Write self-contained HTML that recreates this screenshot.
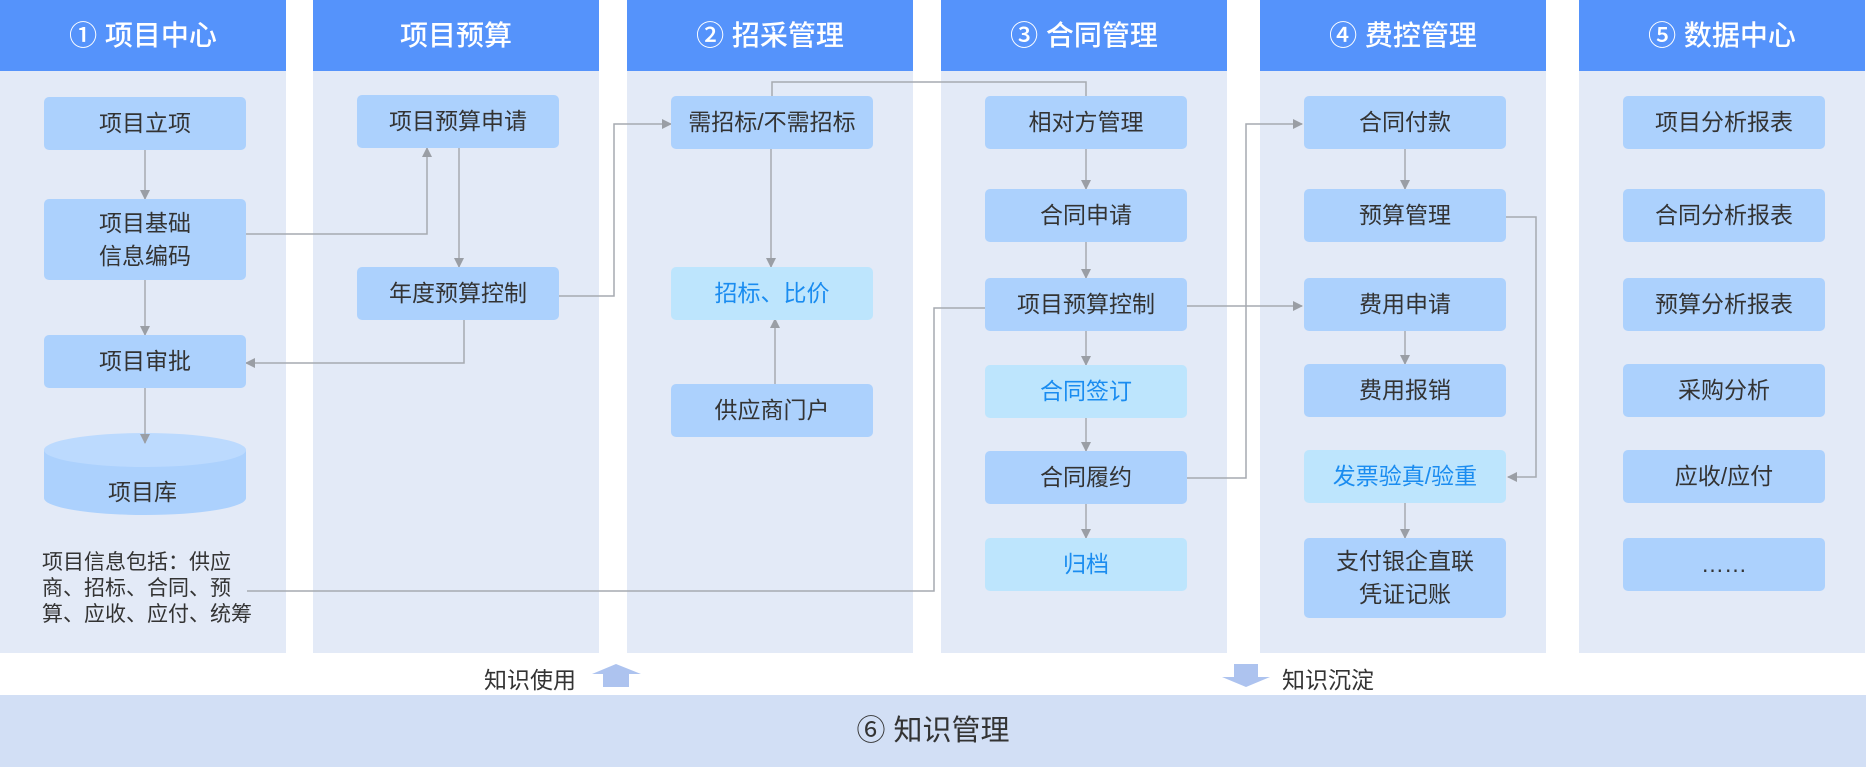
<!DOCTYPE html>
<html><head><meta charset="utf-8"><style>
*{margin:0;padding:0;box-sizing:border-box}
body{width:1866px;height:767px;background:#fff;position:relative;overflow:hidden;font-family:"Liberation Sans","Noto Sans CJK SC",sans-serif}
.col{position:absolute;top:0;width:286px;height:653px;background:#e3eaf7}
.hd{position:absolute;left:0;top:0;width:100%;height:71px;background:#5593fb;color:#fff;font-size:28px;line-height:71px;text-align:center;font-weight:500}
.b{position:absolute;width:202px;height:53px;background:#acd1fd;border-radius:5px;color:#333;font-size:23px;display:flex;align-items:center;justify-content:center;text-align:center;line-height:33px}
.l{background:#bde5fd;color:#1a8cf0}
.t{position:absolute;font-size:21px;color:#333}
</style></head><body>
<div class="col" style="left:0"><div class="hd">① 项目中心</div></div>
<div class="col" style="left:313px"><div class="hd">项目预算</div></div>
<div class="col" style="left:627px"><div class="hd">② 招采管理</div></div>
<div class="col" style="left:941px"><div class="hd">③ 合同管理</div></div>
<div class="col" style="left:1260px"><div class="hd">④ 费控管理</div></div>
<div class="col" style="left:1579px"><div class="hd">⑤ 数据中心</div></div>

<div style="position:absolute;left:0;top:695px;width:1866px;height:72px;background:#d2dff5;font-size:29px;color:#333;text-align:center;line-height:72px">⑥ 知识管理</div>
<div class="t" style="left:484px;top:661px;font-size:23px">知识使用</div>
<div class="t" style="left:1282px;top:661px;font-size:23px">知识沉淀</div>

<svg width="1866" height="767" style="position:absolute;left:0;top:0">
<defs><marker id="a" markerWidth="10" markerHeight="10" refX="9" refY="5" orient="auto" markerUnits="userSpaceOnUse"><path d="M0,0 L10,5 L0,10z" fill="#9a9ea5"/></marker></defs>
<ellipse cx="145" cy="498" rx="101" ry="17" fill="#acd1fd"/>
<rect x="44" y="450" width="202" height="48" fill="#acd1fd"/>
<ellipse cx="145" cy="450" rx="101" ry="17" fill="#bcdafe"/>
<g stroke="#a6aab0" stroke-width="1.5" fill="none">
<path d="M145,150 V199" marker-end="url(#a)"/>
<path d="M145,280 V335" marker-end="url(#a)"/>
<path d="M145,387 V443" marker-end="url(#a)"/>
<path d="M246,234 H427 V148" marker-end="url(#a)"/>
<path d="M459,148 V267" marker-end="url(#a)"/>
<path d="M464,319 V363 H246" marker-end="url(#a)"/>
<path d="M558,296 H614 V124 H671" marker-end="url(#a)"/>
<path d="M771,149 V267" marker-end="url(#a)"/>
<path d="M775,384 V319" marker-end="url(#a)"/>
<path d="M772,96 V82 H1086 V96"/>
<path d="M1086,149 V189" marker-end="url(#a)"/>
<path d="M1086,242 V278" marker-end="url(#a)"/>
<path d="M1086,331 V365" marker-end="url(#a)"/>
<path d="M1086,418 V451" marker-end="url(#a)"/>
<path d="M1086,503 V538" marker-end="url(#a)"/>
<path d="M247,591 H934 V308 H985"/>
<path d="M1187,306 H1302" marker-end="url(#a)"/>
<path d="M1187,478 H1246 V124 H1302" marker-end="url(#a)"/>
<path d="M1405,149 V189" marker-end="url(#a)"/>
<path d="M1405,331 V364" marker-end="url(#a)"/>
<path d="M1405,502 V538" marker-end="url(#a)"/>
<path d="M1506,217 H1536 V477 H1508" marker-end="url(#a)"/>
</g>
<path d="M592,674 L616,664 L641,674 L629,674 L629,687 L603,687 L603,674Z" fill="#adc3ef"/>
<path d="M1222,677 L1246,687 L1270,677 L1258,677 L1258,664 L1234,664 L1234,677Z" fill="#adc3ef"/>
</svg>

<div class="b" style="left:44px;top:97px">项目立项</div>
<div class="b" style="left:44px;top:199px;height:81px">项目基础<br>信息编码</div>
<div class="b" style="left:44px;top:335px">项目审批</div>
<div class="t" style="left:108px;top:473px;font-size:23px">项目库</div>
<div class="t" style="left:42px;top:550px;line-height:26px">项目信息包括：供应<br>商、招标、合同、预<br>算、应收、应付、统筹</div>

<div class="b" style="left:357px;top:95px">项目预算申请</div>
<div class="b" style="left:357px;top:267px">年度预算控制</div>

<div class="b" style="left:671px;top:96px">需招标/不需招标</div>
<div class="b l" style="left:671px;top:267px">招标、比价</div>
<div class="b" style="left:671px;top:384px">供应商门户</div>

<div class="b" style="left:985px;top:96px">相对方管理</div>
<div class="b" style="left:985px;top:189px">合同申请</div>
<div class="b" style="left:985px;top:278px">项目预算控制</div>
<div class="b l" style="left:985px;top:365px">合同签订</div>
<div class="b" style="left:985px;top:451px">合同履约</div>
<div class="b l" style="left:985px;top:538px">归档</div>

<div class="b" style="left:1304px;top:96px">合同付款</div>
<div class="b" style="left:1304px;top:189px">预算管理</div>
<div class="b" style="left:1304px;top:278px">费用申请</div>
<div class="b" style="left:1304px;top:364px">费用报销</div>
<div class="b l" style="left:1304px;top:450px">发票验真/验重</div>
<div class="b" style="left:1304px;top:538px;height:80px">支付银企直联<br>凭证记账</div>

<div class="b" style="left:1623px;top:96px">项目分析报表</div>
<div class="b" style="left:1623px;top:189px">合同分析报表</div>
<div class="b" style="left:1623px;top:278px">预算分析报表</div>
<div class="b" style="left:1623px;top:364px">采购分析</div>
<div class="b" style="left:1623px;top:450px">应收/应付</div>
<div class="b" style="left:1623px;top:538px">……</div>
</body></html>
